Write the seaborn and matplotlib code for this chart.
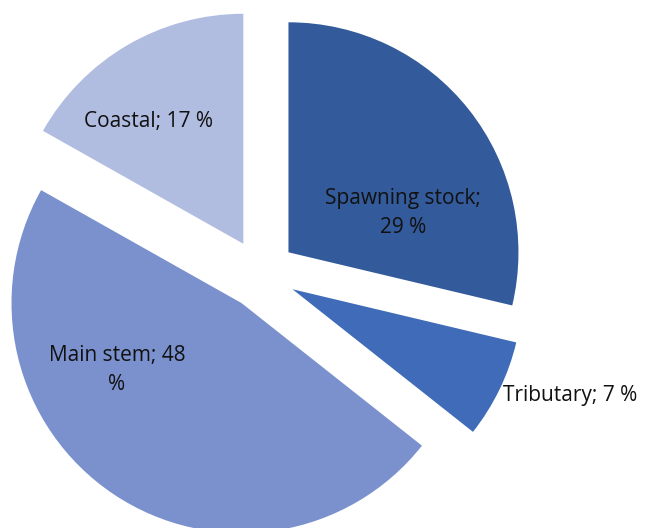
import matplotlib
matplotlib.use("Agg")
import matplotlib.pyplot as plt
import seaborn as sns

sns.set_theme(style="white")
plt.rcParams["font.family"] = ["Open Sans", "DejaVu Sans"]

# Share of each habitat category (percent), clockwise from 12 o'clock
categories = ["Spawning stock", "Tributary", "Main stem", "Coastal"]
shares = [29, 7, 48, 17]
label_texts = ["Spawning stock;\n29 %", "Tributary; 7 %", "Main stem; 48\n%", "Coastal; 17 %"]
colors = ["#335A9A", "#3F6BB8", "#7A91CE", "#B1BDE0"]

W, H = 656, 528
fig = plt.figure(figsize=(W / 100, H / 100), dpi=100)
ax = fig.add_axes([0, 0, 1, 1])

radius = 230
center = (261, H - 274)
explode = [35] * len(shares)  # offset in pixels along each wedge's bisector

ax.pie(shares, colors=colors, startangle=90, counterclock=False,
       radius=radius, center=center, explode=explode,
       wedgeprops=dict(linewidth=0))

# label anchors in pixel space (x, y from top) and alignment
label_pos = [(403, 213, "center"), (503, 395, "left"), (117, 370, "center"), (149, 122, "center")]
for txt, (x, y, ha) in zip(label_texts, label_pos):
    ax.text(x, H - y, txt, ha=ha, va="center", fontsize=15,
            color="#111111", linespacing=1.45)

ax.set_xlim(0, W)
ax.set_ylim(0, H)
ax.set_aspect("equal")
ax.axis("off")
fig.savefig("out.png", dpi=100, facecolor="white")
